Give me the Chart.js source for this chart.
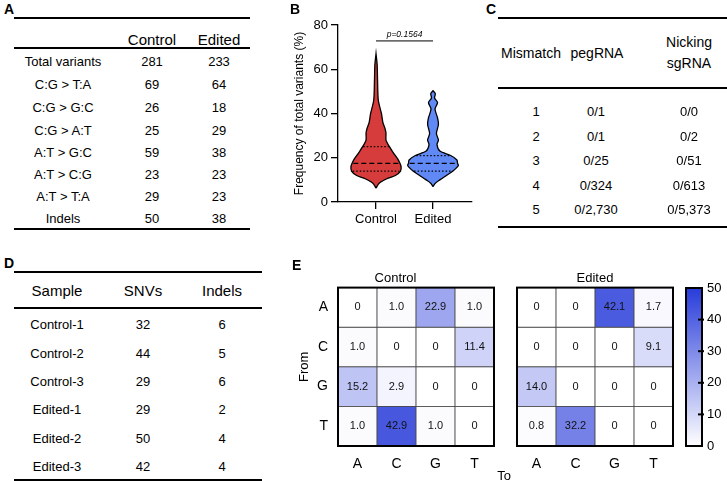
<!DOCTYPE html>
<html>
<head>
<meta charset="utf-8">
<script src="https://cdn.jsdelivr.net/npm/chart.js@4.4.1/dist/chart.umd.min.js"></script>
<style>
  html, body { margin: 0; padding: 0; background: #fff; }
  #fig { position: relative; width: 727px; height: 481px; overflow: hidden;
         font-family: 'Liberation Sans', Arial, sans-serif; color: #000; }
  .t { position: absolute; white-space: nowrap; line-height: 1; transform: translate(-50%, -50%); }
  .lbl { position: absolute; font-weight: bold; font-size: 14px; line-height: 1; }
  .rule { position: absolute; background: #000; }
  canvas { position: absolute; }
</style>
</head>
<body>
<div id="fig">
  <canvas id="violin" width="230" height="235" style="left:250px; top:0px;"></canvas>
  <canvas id="heatControl" width="210" height="216" style="left:290px; top:265px;"></canvas>
  <canvas id="heatEdited" width="180" height="216" style="left:505px; top:265px;"></canvas>
  <canvas id="colorBar" width="51" height="216" style="left:676px; top:265px;"></canvas>
</div>
<script>
// ---- panel A table ----
const aHeader = ['Control', 'Edited'];
const aRows = ['Total variants', 'C:G > T:A', 'C:G > G:C', 'C:G > A:T', 'A:T > G:C', 'A:T > C:G', 'A:T > T:A', 'Indels'];
const aControl = [281, 69, 26, 25, 59, 23, 29, 50];
const aEdited = [233, 64, 18, 29, 38, 23, 23, 38];

// ---- panel C table ----
const cHeader = ['Mismatch', 'pegRNA', 'Nicking\nsgRNA'];
const cMismatch = [1, 2, 3, 4, 5];
const cPeg = ['0/1', '0/1', '0/25', '0/324', '0/2,730'];
const cNick = ['0/0', '0/2', '0/51', '0/613', '0/5,373'];

// ---- panel D table ----
const dHeader = ['Sample', 'SNVs', 'Indels'];
const dSamples = ['Control-1', 'Control-2', 'Control-3', 'Edited-1', 'Edited-2', 'Edited-3'];
const dSnvs = [32, 44, 29, 29, 50, 42];
const dIndels = [6, 5, 6, 2, 4, 4];

// ---- panel B violin (half-width profile, in category units) ----
const groups = ['Control', 'Edited'];
const controlLevels = [6.3, 8.5, 10.5, 12, 14, 16, 17.5, 19.5, 22, 25, 28, 31, 33, 36, 40, 46, 55, 62, 67];
const controlWidth = [0, 0.055, 0.19, 0.34, 0.43, 0.44, 0.42, 0.38, 0.31, 0.235, 0.175, 0.175, 0.16, 0.12, 0.095, 0.04, 0.027, 0.02, 0];
const controlQuart = [14, 17.5, 25];
const editedLevels = [7, 8.5, 10, 12, 14, 16.5, 17.5, 19, 21, 23, 26, 28, 31, 35, 38, 42, 45, 47, 49, 50.3];
const editedWidth = [0, 0.04, 0.12, 0.235, 0.35, 0.445, 0.43, 0.42, 0.31, 0.12, 0.07, 0.095, 0.06, 0.095, 0.08, 0.035, 0.08, 0.027, 0.04, 0];
const editedQuart = [14, 17.5, 21];
const pValue = 'p=0.1564';
const pBracketY = 72.8;

// ---- panel E heatmaps ----
const baseLabels = ['A', 'C', 'G', 'T'];
const controlMatrix = [
  [0, 1.0, 22.9, 1.0],
  [1.0, 0, 0, 11.4],
  [15.2, 2.9, 0, 0],
  [1.0, 42.9, 1.0, 0]
];
const editedMatrix = [
  [0, 0, 42.1, 1.7],
  [0, 0, 0, 9.1],
  [14.0, 0, 0, 0],
  [0.8, 32.2, 0, 0]
];
const colorMax = 50;

const FONT = "'Liberation Sans', Arial, sans-serif";
Chart.defaults.font.family = FONT;
Chart.defaults.color = '#000';
Chart.defaults.animation = false;
Chart.defaults.plugins.legend.display = false;
Chart.defaults.plugins.tooltip.enabled = false;

const fig = document.getElementById('fig');
function put(text, x, y, size, extra) {
  const d = document.createElement('div');
  d.className = 't';
  d.style.left = x + 'px';
  d.style.top = y + 'px';
  d.style.fontSize = size + 'px';
  if (extra) Object.assign(d.style, extra);
  d.innerHTML = String(text).replace(/\n/g, '<br>');
  if (String(text).indexOf('\n') >= 0) { d.style.textAlign = 'center'; d.style.lineHeight = '1.5'; }
  fig.appendChild(d);
}
function rule(x1, x2, y, w) {
  const d = document.createElement('div');
  d.className = 'rule';
  d.style.left = x1 + 'px';
  d.style.width = (x2 - x1) + 'px';
  d.style.top = (y - w / 2) + 'px';
  d.style.height = w + 'px';
  fig.appendChild(d);
}
function letter(ch, x, y) {
  const d = document.createElement('div');
  d.className = 'lbl';
  d.style.left = x + 'px';
  d.style.top = y + 'px';
  d.textContent = ch;
  fig.appendChild(d);
}

// panel A
letter('A', 4, 2);
rule(14, 250, 18, 1.5);
put(aHeader[0], 152, 39, 15);
put(aHeader[1], 219, 39, 15);
rule(14, 250, 48, 1.2);
const aY = [61, 84, 107, 130, 152, 174, 196, 218];
aRows.forEach((r, i) => {
  put(r, 63, aY[i], 13);
  put(aControl[i], 152, aY[i], 13);
  put(aEdited[i], 219, aY[i], 13);
});
rule(14, 250, 229, 1.5);

// panel C
letter('C', 486, 2);
rule(498, 727, 18, 1.5);
put(cHeader[0], 531, 53, 14);
put(cHeader[1], 597, 53, 14);
put(cHeader[2], 689, 53, 14);
rule(498, 727, 88, 1.2);
const cY = [111, 136, 160, 185, 209];
cMismatch.forEach((m, i) => {
  put(m, 536, cY[i], 13);
  put(cPeg[i], 596, cY[i], 13);
  put(cNick[i], 689, cY[i], 13);
});
rule(498, 727, 227, 1.5);

// panel D
letter('D', 4, 256);
rule(14, 262, 272, 1.5);
put(dHeader[0], 57, 290, 15);
put(dHeader[1], 143, 290, 15);
put(dHeader[2], 222, 290, 15);
rule(14, 262, 308, 1.2);
const dY = [324, 353, 381, 409, 438, 466];
dSamples.forEach((s, i) => {
  put(s, 57, dY[i], 13);
  put(dSnvs[i], 143, dY[i], 13);
  put(dIndels[i], 222, dY[i], 13);
});
rule(14, 262, 480, 1.5);

// panel B / E letters and loose labels
letter('B', 290, 2);
letter('E', 292, 258);
put('To', 504, 475, 13);

// ---- violin ----
function violinShape(center, levels, widths) {
  const right = levels.map((v, i) => ({ x: center + widths[i], y: v }));
  const left = levels.map((v, i) => ({ x: center - widths[i], y: v })).reverse();
  return right.concat(left);
}
function quartLines(center, levels, widths, quarts) {
  return quarts.map((q, k) => {
    const w = widths[levels.indexOf(q)] * 0.95;
    return {
      data: [{ x: center - w, y: q }, { x: center + w, y: q }],
      showLine: true, borderColor: '#000', borderWidth: 1.2, order: 0,
      borderDash: k === 1 ? [5, 3] : [1.5, 2], pointRadius: 0, fill: false
    };
  });
}
const violinSets = [
  { data: violinShape(1, controlLevels, controlWidth), showLine: true, fill: 'shape', order: 2,
    backgroundColor: '#d63c3c', borderColor: '#000', borderWidth: 1.3, pointRadius: 0, tension: 0.25 },
  { data: violinShape(2, editedLevels, editedWidth), showLine: true, fill: 'shape', order: 2,
    backgroundColor: '#6189f5', borderColor: '#000', borderWidth: 1.3, pointRadius: 0, tension: 0.25 }
].concat(quartLines(1, controlLevels, controlWidth, controlQuart))
 .concat(quartLines(2, editedLevels, editedWidth, editedQuart))
 .concat([{ data: [{ x: 1, y: pBracketY }, { x: 2, y: pBracketY }], showLine: true, order: 0,
            borderColor: '#000', borderWidth: 1, pointRadius: 0, fill: false }]);

const pLabel = {
  id: 'pLabel',
  afterDatasetsDraw(chart) {
    const { ctx, scales } = chart;
    ctx.save();
    ctx.font = 'italic 8.5px ' + FONT;
    ctx.textAlign = 'center';
    ctx.textBaseline = 'bottom';
    ctx.fillStyle = '#000';
    ctx.fillText(pValue, scales.x.getPixelForValue(1.5), scales.y.getPixelForValue(pBracketY) - 2);
    ctx.restore();
  }
};

new Chart(document.getElementById('violin'), {
  type: 'scatter',
  data: { datasets: violinSets },
  options: {
    responsive: false,
    devicePixelRatio: 1,
    layout: { padding: { left: 42, top: 25, right: 8, bottom: 0 } },
    scales: {
      x: {
        type: 'linear', min: 0.333, max: 2.684,
        afterBuildTicks: s => { s.ticks = [{ value: 1 }, { value: 2 }]; },
        afterFit: s => { s.height = 33; },
        ticks: { callback: v => groups[v - 1], font: { size: 13 }, padding: 3, maxRotation: 0 },
        grid: { drawOnChartArea: false, drawTicks: true, tickLength: 7, color: '#000', lineWidth: 1.3 },
        border: { color: '#000', width: 1.3 }
      },
      y: {
        min: 0, max: 80,
        afterFit: s => { s.width = 46; },
        ticks: { stepSize: 20, font: { size: 13 }, padding: 3 },
        grid: { drawOnChartArea: false, drawTicks: true, tickLength: 7, color: '#000', lineWidth: 1.3 },
        border: { color: '#000', width: 1.3 },
        title: { display: true, text: 'Frequency of total variants (%)', font: { size: 12 }, padding: 0 }
      }
    }
  },
  plugins: [pLabel]
});

// ---- heatmaps ----
function heatColor(v) {
  const f = Math.min(v / colorMax, 1);
  const r = Math.round(255 - (255 - 40) * f);
  const g = Math.round(255 - (255 - 60) * f);
  const b = Math.round(255 - (255 - 218) * f);
  return `rgb(${r},${g},${b})`;
}
function fmt(v) { return v === 0 ? '0' : v.toFixed(1); }

const frameBorder = {
  id: 'frameBorder',
  afterDraw(chart) {
    const { ctx, chartArea: a } = chart;
    ctx.save();
    ctx.strokeStyle = '#000';
    ctx.lineWidth = 2;
    ctx.strokeRect(a.left, a.top, a.right - a.left, a.bottom - a.top);
    ctx.restore();
  }
};
const cellText = {
  id: 'cellText',
  afterDatasetsDraw(chart) {
    const { ctx } = chart;
    ctx.save();
    ctx.font = '11px ' + FONT;
    ctx.textAlign = 'center';
    ctx.textBaseline = 'middle';
    ctx.fillStyle = '#111';
    chart.data.datasets.forEach((ds, i) => {
      chart.getDatasetMeta(i).data.forEach((el, j) => {
        ctx.fillText(fmt(ds.values[j]), el.x, (el.y + el.base) / 2);
      });
    });
    ctx.restore();
  }
};

function heatmap(id, matrix, title, showY, padL, padR) {
  const n = baseLabels.length;
  const datasets = matrix.map((row, r) => {
    const level = n - 1 - r;
    return {
      data: row.map(() => [level, level + 1]),
      values: row,
      backgroundColor: row.map(heatColor),
      borderColor: '#4a4a4a', borderWidth: 0.8, borderSkipped: false,
      grouped: false, barPercentage: 1, categoryPercentage: 1
    };
  });
  new Chart(document.getElementById(id), {
    type: 'bar',
    data: { labels: baseLabels, datasets },
    options: {
      responsive: false,
      devicePixelRatio: 1,
      layout: { padding: { left: padL, right: padR, top: 6, bottom: 0 } },
      plugins: { title: { display: true, text: title, font: { size: 13, weight: 'normal' }, padding: { top: 0, bottom: 1 }, color: '#000' } },
      scales: {
        x: {
          afterFit: s => { s.height = 35; },
          ticks: { font: { size: 14 }, padding: 10 },
          grid: { display: false, drawTicks: false },
          border: { display: false }
        },
        y: {
          display: showY,
          min: 0, max: n,
          afterBuildTicks: s => { s.ticks = baseLabels.map((_, k) => ({ value: k + 0.5 })); },
          afterFit: s => { if (showY) s.width = 41; },
          ticks: { callback: v => baseLabels[n - 1 - Math.floor(v)], font: { size: 14 }, padding: 10 },
          grid: { display: false, drawTicks: false },
          border: { display: false },
          title: { display: showY, text: 'From', font: { size: 13 }, padding: 0 }
        }
      }
    },
    plugins: [cellText, frameBorder]
  });
}
heatmap('heatControl', controlMatrix, 'Control', true, 7, 6);
heatmap('heatEdited', editedMatrix, 'Edited', false, 12, 12);

// ---- colour bar ----
const barTicks = {
  id: 'barTicks',
  afterDraw(chart) {
    const { ctx, chartArea: a, scales } = chart;
    ctx.save();
    ctx.strokeStyle = '#000';
    ctx.lineWidth = 2;
    scales.y.ticks.forEach(t => {
      if (t.value <= 0 || t.value >= colorMax) return;
      const y = scales.y.getPixelForValue(t.value);
      ctx.beginPath();
      ctx.moveTo(a.right - 4, y);
      ctx.lineTo(a.right + 2, y);
      ctx.stroke();
    });
    ctx.restore();
  }
};
new Chart(document.getElementById('colorBar'), {
  type: 'bar',
  data: {
    labels: [''],
    datasets: [{
      data: [[0, colorMax]],
      barPercentage: 1, categoryPercentage: 1, borderWidth: 0,
      backgroundColor: c => {
        const a = c.chart.chartArea;
        if (!a) return heatColor(colorMax / 2);
        const g = c.chart.ctx.createLinearGradient(0, a.bottom, 0, a.top);
        g.addColorStop(0, heatColor(0));
        g.addColorStop(1, heatColor(colorMax));
        return g;
      }
    }]
  },
  options: {
    responsive: false,
    devicePixelRatio: 1,
    layout: { padding: { left: 10, top: 23, right: 0, bottom: 35 } },
    scales: {
      x: { display: false },
      y: {
        position: 'right', min: 0, max: colorMax,
        afterFit: s => { s.width = 25; },
        ticks: { stepSize: 10, font: { size: 13 }, padding: 5 },
        grid: { drawOnChartArea: false, drawTicks: false },
        border: { display: false }
      }
    }
  },
  plugins: [frameBorder, barTicks]
});
</script>
</body>
</html>
